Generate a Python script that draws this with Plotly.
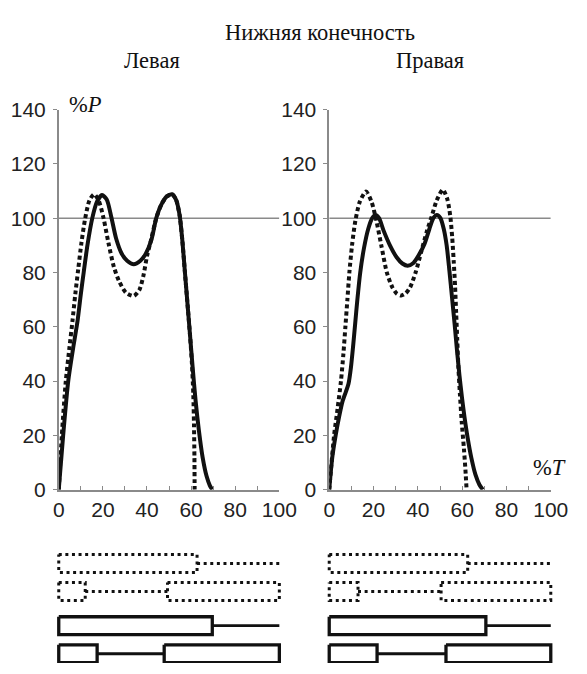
import plotly.graph_objects as go

# Vertical load curves, %P over %T of the step cycle
left_solid_t = [0, 2, 4.3, 6.5, 8.5, 10, 11.3, 13, 15.2, 17.3, 19.6, 21.8, 23.8, 26, 28.5, 31, 34, 37, 39.5, 42, 44.2, 46.5, 49, 51.4, 53.3, 54.8, 56, 57.2, 58.4, 59.5, 60.7, 62, 63.5, 65.2, 67, 68.5, 69.6]
left_solid_p = [0, 20, 40, 52, 62, 72, 80, 90, 100, 106, 108.5, 106.8, 100.5, 92.5, 87, 84.3, 83, 84.3, 87, 92, 100, 105, 108, 108.8, 106.5, 101, 92, 80, 68, 57, 45, 33, 22, 12, 5, 1.5, 0]

left_dot_t = [0, 1.4, 3.2, 4.8, 6.2, 7.5, 8.8, 10.3, 12, 13.9, 16, 18.1, 20.3, 22.5, 25, 27.5, 30.5, 34, 36.5, 38.3, 40, 42, 44.2, 46.5, 49, 51.4, 53.3, 54.8, 56, 57.2, 58.4, 59.5, 60.4, 61, 61.3, 61.5, 61.6]
left_dot_p = [0, 20, 40, 52, 62, 72, 81, 91, 100, 106.5, 108.8, 106.5, 100, 91, 82, 76.5, 72.5, 71.3, 73.5, 78.5, 86, 92.5, 100, 105, 108, 108.8, 106.5, 101, 92, 80, 68, 57, 46, 35, 24, 12, 0]

right_solid_t = [0, 1.4, 2.9, 4.5, 6, 7.5, 8.7, 9.8, 10.8, 11.7, 12.7, 14, 15.7, 17.6, 19.4, 20.9, 22.5, 24.5, 27.4, 30.5, 33, 35.4, 38, 40.5, 43, 45.2, 47, 48.6, 50.2, 51.7, 53, 54.2, 55.4, 56.6, 57.7, 58.8, 59.9, 61.1, 62.5, 64.2, 66, 67.8, 69.3]
right_solid_p = [0, 12, 20, 27, 32.5, 36, 39, 45, 53, 61, 70, 80, 89, 96, 100, 101.2, 100, 95.5, 90, 85.5, 83.3, 82.5, 83.5, 86.5, 90.5, 96, 100, 101.2, 100, 96, 90, 81, 71, 61, 51, 42, 34, 26.5, 19, 11.5, 5.5, 1.8, 0]

right_dot_t = [0, 2.2, 3.8, 5.3, 6.4, 7.3, 8.2, 9.1, 10.3, 11.8, 13.8, 16.6, 19.1, 21.3, 23.5, 26, 28.5, 30.5, 32.5, 34.5, 36.5, 39, 41.5, 44, 46.2, 48.5, 51.3, 53.3, 54.6, 55.5, 56.2, 56.8, 57.3, 57.8, 58.3, 59, 59.8, 60.8, 61.5, 62]
right_dot_p = [0, 20, 30, 40, 50, 60, 70, 80, 90, 99, 106, 109.8, 106, 99, 90, 80, 74.5, 72.2, 71.5, 72.3, 74.5, 80, 87.5, 95, 100.5, 106.5, 110.5, 107, 101, 93, 84, 75, 65, 55, 45, 35, 25, 15, 7, 0]

# Support (stance) intervals in %T for the four bar rows of each limb
left_dot_ipsi = [(0, 62.7)]
left_dot_contra = [(0, 12.0), (49.3, 100)]
left_solid_ipsi = [(0, 69.6)]
left_solid_contra = [(0, 17.4), (47.8, 100)]

right_dot_ipsi = [(0, 62.5)]
right_dot_contra = [(0, 13.0), (50.5, 100)]
right_solid_ipsi = [(0, 70.7)]
right_solid_contra = [(0, 21.6), (52.7, 100)]

x_ticks = list(range(0, 101, 10))
x_ticktext = [str(v) if v % 20 == 0 else "" for v in x_ticks]
y_ticks = list(range(0, 141, 20))

W, H = 587, 674
INK = "#111111"
AXIS = "#8a8a8a"
SANS = "Liberation Sans"
SERIF = "Liberation Serif"

def fx(p):
    return p / W

def fy(p):
    return 1 - p / H

panel_x = [(55, 285), (337, 568)]
panel_y = (fy(494.5), fy(101))
pad = 3  # extra %T on each side of the bar axes so strokes are not clipped

fig = go.Figure()

curves = [
    (left_solid_t, left_solid_p, left_dot_t, left_dot_p),
    (right_solid_t, right_solid_p, right_dot_t, right_dot_p),
]
bar_rows = [
    [(left_dot_ipsi, "dot"), (left_dot_contra, "dot"), (left_solid_ipsi, "solid"), (left_solid_contra, "solid")],
    [(right_dot_ipsi, "dot"), (right_dot_contra, "dot"), (right_solid_ipsi, "solid"), (right_solid_contra, "solid")],
]
row_centers = [0, 1, 2.22, 3.22]
half_h = 0.32

for i in range(2):
    xa, ya = f"x{i + 1}", f"y{i + 1}"
    xb, yb = f"x{i + 3}", f"y{i + 3}"
    st, sp, dt, dp = curves[i]
    fig.add_trace(go.Scatter(x=dt, y=dp, mode="lines", xaxis=xa, yaxis=ya,
                             line=dict(color=INK, width=4, dash="4px,3px", shape="spline", smoothing=0.7)))
    fig.add_trace(go.Scatter(x=st, y=sp, mode="lines", xaxis=xa, yaxis=ya,
                             line=dict(color=INK, width=4, shape="spline", smoothing=0.7)))
    fig.add_shape(type="line", xref=xa, yref=ya, x0=0, x1=100, y0=100, y1=100,
                  line=dict(color=AXIS, width=1.5), layer="below")

    for (intervals, style), yc in zip(bar_rows[i], row_centers):
        if style == "dot":
            line_box = dict(color=INK, width=3, dash="3px,3.6px")
            line_gap = dict(color=INK, width=3, dash="3px,3.6px")
        else:
            line_box = dict(color=INK, width=3.3)
            line_gap = dict(color=INK, width=2.8)
        top, bot = yc - half_h, yc + half_h
        for a, b in intervals:
            fig.add_trace(go.Scatter(x=[a, b, b, a, a], y=[top, top, bot, bot, top], mode="lines",
                                     xaxis=xb, yaxis=yb, line=line_box))
        ends = [b for a, b in intervals]
        starts = [a for a, b in intervals][1:] + [100]
        for e, s in zip(ends, starts):
            if s > e:
                fig.add_trace(go.Scatter(x=[e, s], y=[yc, yc], mode="lines",
                                         xaxis=xb, yaxis=yb, line=line_gap))

layout = dict(
    width=W, height=H, margin=dict(l=0, r=0, t=0, b=0),
    paper_bgcolor="white", plot_bgcolor="white", showlegend=False,
)

for i, (p0, p1) in enumerate(panel_x):
    d0, d1 = fx(p0), fx(p1)
    span = d1 - d0
    layout[f"xaxis{i + 1}"] = dict(
        domain=[d0, d1], range=[0, 100], anchor=f"y{i + 1}",
        tickvals=x_ticks, ticktext=x_ticktext, ticks="inside", ticklen=4, tickwidth=1,
        tickcolor=AXIS, showline=True, linecolor=AXIS, linewidth=1.5, showgrid=False,
        zeroline=False, tickfont=dict(family=SANS, size=21, color="#222222"),
        ticklabelstandoff=0,
    )
    layout[f"yaxis{i + 1}"] = dict(
        domain=list(panel_y), range=[0, 140], anchor=f"x{i + 1}",
        tickvals=y_ticks, ticks="outside", ticklen=4, tickwidth=1, tickcolor=AXIS,
        showline=True, linecolor=AXIS, linewidth=1.5, showgrid=False, zeroline=False,
        tickfont=dict(family=SANS, size=21, color="#222222"), ticklabelstandoff=3,
    )
    layout[f"xaxis{i + 3}"] = dict(
        domain=[d0 - pad * span / 100, d1 + pad * span / 100], range=[-pad, 100 + pad],
        anchor=f"y{i + 3}", visible=False, showgrid=False, zeroline=False,
    )
    layout[f"yaxis{i + 3}"] = dict(
        domain=[0, fy(555)], range=[3.55, -0.55], anchor=f"x{i + 3}",
        visible=False, showgrid=False, zeroline=False,
    )

fig.update_layout(**layout)

title_font = dict(family=SERIF, size=22.5, color="#111111")
notes = [
    ("Нижняя конечность", 327, 21),
    ("Левая", 152.5, 50),
    ("Правая", 442.5, 50),
    ("%<i>P</i>", 82.5, 96),
    ("%<i>T</i>", 567, 471.5),
]
for text, px, py in notes:
    fig.add_annotation(text=text, xref="paper", yref="paper", x=fx(px), y=fy(py),
                       xanchor="center", yanchor="middle", showarrow=False, font=title_font)

fig.write_html("out.html")
